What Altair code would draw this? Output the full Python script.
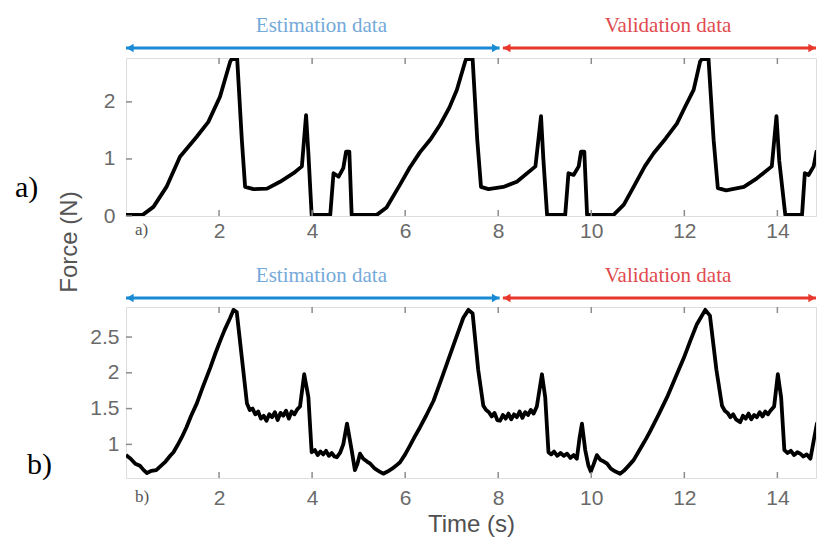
import altair as alt
import pandas as pd

# ---------------- data ----------------
x_ticks = [2, 4, 6, 8, 10, 12, 14]
ya_ticks = [0, 1, 2]
yb_ticks = [1, 1.5, 2, 2.5]

# panel a) measured force (N)
t_a = [0.0, 0.36, 0.59, 0.87, 1.16, 1.52, 1.77, 2.02, 2.24, 2.27,
       2.39, 2.49, 2.56, 2.74, 3.03, 3.31, 3.6, 3.78, 3.87, 3.92,
       3.99, 4.39, 4.46, 4.57, 4.67, 4.73, 4.8, 4.85, 5.39, 5.6,
       5.89, 6.1, 6.32, 6.55, 6.75, 6.95, 7.11, 7.29, 7.31, 7.45,
       7.55, 7.63, 7.79, 8.11, 8.4, 8.8, 8.92, 8.97, 9.05, 9.44,
       9.51, 9.62, 9.73, 9.78, 9.85, 9.91, 10.48, 10.7, 10.91, 11.15,
       11.34, 11.6, 11.84, 12.02, 12.2, 12.34, 12.38, 12.52, 12.63, 12.72,
       12.9, 13.28, 13.56, 13.88, 13.98, 14.04, 14.17, 14.53, 14.59, 14.67,
       14.78, 14.84, 14.94, 14.98, 15.0]
f_a = [0.02, 0.02, 0.16, 0.51, 1.04, 1.39, 1.65, 2.09, 2.71, 2.75,
       2.75, 1.33, 0.51, 0.47, 0.48, 0.6, 0.75, 0.87, 1.77, 1.1,
       0.02, 0.02, 0.75, 0.69, 0.84, 1.13, 1.13, 0.02, 0.02, 0.15,
       0.55, 0.85, 1.12, 1.35, 1.6, 1.9, 2.21, 2.71, 2.75, 2.75,
       1.33, 0.51, 0.47, 0.51, 0.6, 0.87, 1.75, 1.0, 0.02, 0.02,
       0.75, 0.72, 0.87, 1.13, 1.13, 0.02, 0.02, 0.2, 0.51, 0.87,
       1.1, 1.36, 1.62, 1.92, 2.21, 2.71, 2.75, 2.75, 1.33, 0.49,
       0.45, 0.51, 0.66, 0.87, 1.75, 0.97, 0.02, 0.02, 0.75, 0.72,
       0.87, 1.13, 1.13, 0.05, 0.05]

# panel b) second force signal
t_b = [0.0, 0.1, 0.2, 0.3, 0.38, 0.45, 0.55, 0.65, 0.75, 0.85,
       0.95, 1.02, 1.1, 1.2, 1.3, 1.4, 1.52, 1.65, 1.81, 1.92,
       2.02, 2.12, 2.24, 2.31, 2.38, 2.49, 2.6, 2.66, 2.72, 2.78,
       2.84, 2.9, 2.96, 3.02, 3.08, 3.14, 3.2, 3.26, 3.32, 3.38,
       3.44, 3.5, 3.56, 3.62, 3.68, 3.74, 3.83, 3.92, 3.99, 4.06,
       4.12, 4.18, 4.24, 4.3, 4.36, 4.42, 4.48, 4.53, 4.6, 4.67,
       4.75, 4.85, 4.92, 4.97, 5.03, 5.1, 5.18, 5.25, 5.35, 5.45,
       5.53, 5.62, 5.72, 5.8, 5.89, 6.0, 6.1, 6.2, 6.32, 6.45,
       6.61, 6.8, 6.97, 7.1, 7.25, 7.36, 7.45, 7.57, 7.68, 7.74,
       7.8, 7.86, 7.92, 7.98, 8.04, 8.1, 8.16, 8.22, 8.28, 8.34,
       8.4, 8.46, 8.52, 8.58, 8.64, 8.7, 8.76, 8.83, 8.94, 9.01,
       9.08, 9.14, 9.2, 9.27, 9.34, 9.41, 9.48, 9.55, 9.62, 9.69,
       9.75, 9.8, 9.87, 9.94, 9.99, 10.05, 10.12, 10.2, 10.27, 10.34,
       10.42, 10.52, 10.62, 10.7, 10.8, 10.91, 11.0, 11.1, 11.18, 11.27,
       11.45, 11.63, 11.8, 11.99, 12.13, 12.27, 12.45, 12.55, 12.69, 12.81,
       12.87, 12.93, 12.99, 13.05, 13.11, 13.2, 13.26, 13.32, 13.38, 13.44,
       13.5, 13.56, 13.62, 13.68, 13.74, 13.8, 13.85, 13.93, 14.01, 14.08,
       14.15, 14.22, 14.29, 14.36, 14.43, 14.49, 14.56, 14.63, 14.71, 14.78,
       14.85, 14.96, 15.0]
f_b = [0.85, 0.8, 0.73, 0.7, 0.64, 0.6, 0.63, 0.64, 0.7, 0.76,
       0.84, 0.89, 0.98, 1.1, 1.24, 1.4, 1.57, 1.8, 2.07, 2.27,
       2.44, 2.6, 2.77, 2.88, 2.85, 2.21, 1.57, 1.48, 1.5, 1.42,
       1.46, 1.36, 1.4, 1.33, 1.42, 1.38, 1.45, 1.34, 1.44, 1.4,
       1.47, 1.36, 1.46, 1.42, 1.49, 1.53, 1.98, 1.66, 0.89, 0.92,
       0.85, 0.9, 0.86, 0.91, 0.84, 0.88, 0.83, 0.82, 0.88, 1.0,
       1.29, 0.92, 0.64, 0.72, 0.87, 0.8, 0.76, 0.73, 0.66, 0.62,
       0.59, 0.62, 0.66, 0.7, 0.75, 0.86, 0.98, 1.1, 1.24, 1.4,
       1.61, 1.95, 2.26, 2.5, 2.77, 2.88, 2.83, 2.04, 1.54, 1.48,
       1.45, 1.39, 1.44, 1.34, 1.33, 1.41, 1.36, 1.43, 1.35, 1.42,
       1.38, 1.46, 1.37, 1.45, 1.41, 1.48, 1.43, 1.53, 1.98, 1.66,
       0.89, 0.86, 0.9, 0.84, 0.88, 0.84, 0.87, 0.81, 0.85, 0.8,
       1.1, 1.29, 0.92, 0.7, 0.62, 0.72, 0.85, 0.78, 0.76, 0.73,
       0.66, 0.62, 0.59, 0.63, 0.7, 0.78, 0.88, 0.99, 1.08, 1.19,
       1.42, 1.66, 1.92, 2.21, 2.45, 2.68, 2.88, 2.8, 2.04, 1.54,
       1.47, 1.44, 1.38, 1.42, 1.35, 1.31, 1.4, 1.36, 1.43, 1.35,
       1.41, 1.38, 1.45, 1.39, 1.46, 1.42, 1.47, 1.53, 1.98, 1.66,
       0.92, 0.88, 0.91, 0.85, 0.89, 0.87, 0.83, 0.86, 0.8, 1.05,
       1.29, 0.92, 0.7]

# annotation segments (arrows above each panel)
seg_labels = ["Estimation data", "Validation data"]
seg_start = [0.0, 8.1]
seg_end = [8.03, 14.83]
seg_text_x = [4.2, 11.65]
seg_line_colors = ["#1a8ad4", "#e8372c"]
seg_text_colors = ["#74a9d9", "#df4a4e"]

# ---------------- styling ----------------
SANS = "Liberation Sans"
SERIF = "Liberation Serif"
X_MAX = 14.83
W = 690
FRAME = "#8c8c8c"

seg_df = pd.DataFrame({
    "label": seg_labels, "start": seg_start, "end": seg_end,
    "tx": seg_text_x, "lc": seg_line_colors, "tc": seg_text_colors,
})
xt_df = pd.DataFrame({"t": x_ticks})


def panel(t, f, y_domain, y_ticks, height, xlab_pad, ylab_pad,
          arrow_y, text_y, side_label, side_x, side_y, small_label,
          small_y, x_title=None, title_pad=0, extra_layers=()):
    xs = alt.Scale(domain=[0, X_MAX], nice=False, zero=False)
    ys = alt.Scale(domain=y_domain, nice=False, zero=False)
    df = pd.DataFrame({"t": t, "f": f})
    yt_df = pd.DataFrame({"f": y_ticks})

    x_axis = alt.Axis(values=x_ticks, labelFont=SANS, labelFontSize=21,
                      labelColor="#6a6a6a", labelPadding=xlab_pad,
                      ticks=False, domain=False, grid=False,
                      title=x_title, titleFont=SANS, titleFontSize=24,
                      titleFontWeight="normal", titleColor="#505050",
                      titlePadding=title_pad)
    y_axis = alt.Axis(values=y_ticks, format="~g", labelFont=SANS,
                      labelFontSize=21, labelColor="#6a6a6a",
                      labelPadding=ylab_pad, ticks=False, domain=False,
                      grid=False, title=None)

    def X(field):
        return alt.X(field, scale=xs, axis=x_axis)

    def Y(field):
        return alt.Y(field, scale=ys, axis=y_axis)

    line = alt.Chart(df).mark_line(
        color="black", strokeWidth=3.8, clip=True, strokeJoin="round"
    ).encode(x=X("t:Q"), y=Y("f:Q"))

    bot_ticks = alt.Chart(xt_df).mark_rule(color=FRAME, strokeWidth=1.5).encode(
        x=X("t:Q"), y=alt.value(height), y2=alt.value(height - 6),
    )
    top_ticks = alt.Chart(xt_df).mark_rule(color=FRAME, strokeWidth=1.5).encode(
        x=X("t:Q"), y=alt.value(0), y2=alt.value(6),
    )
    left_ticks = alt.Chart(yt_df).mark_rule(color=FRAME, strokeWidth=1.5).encode(
        y=Y("f:Q"), x=alt.value(0), x2=alt.value(6),
    )

    arrows = alt.Chart(seg_df).mark_rule(strokeWidth=3).encode(
        x=X("start:Q"), x2="end:Q", y=alt.value(arrow_y),
        color=alt.Color("lc:N", scale=None),
    )
    head_l = alt.Chart(seg_df).mark_point(
        shape="triangle-left", filled=True, size=70, opacity=1
    ).encode(
        x=X("start:Q"), y=alt.value(arrow_y), xOffset=alt.value(4),
        color=alt.Color("lc:N", scale=None),
    )
    head_r = alt.Chart(seg_df).mark_point(
        shape="triangle-right", filled=True, size=70, opacity=1
    ).encode(
        x=X("end:Q"), y=alt.value(arrow_y), xOffset=alt.value(-4),
        color=alt.Color("lc:N", scale=None),
    )
    seg_text = alt.Chart(seg_df).mark_text(
        font=SERIF, fontSize=21, baseline="middle", align="center"
    ).encode(
        x=X("tx:Q"), y=alt.value(text_y), text="label:N",
        color=alt.Color("tc:N", scale=None),
    )

    side = alt.Chart(pd.DataFrame({"s": [side_label]})).mark_text(
        font=SERIF, fontSize=30, align="left", baseline="middle", color="black"
    ).encode(x=alt.value(side_x), y=alt.value(side_y), text="s:N")
    small = alt.Chart(pd.DataFrame({"s": [small_label]})).mark_text(
        font=SERIF, fontSize=17, align="left", baseline="middle", color="#555555"
    ).encode(x=alt.value(9), y=alt.value(small_y), text="s:N")

    layers = [line, bot_ticks, top_ticks, left_ticks, arrows, head_l,
              head_r, seg_text, side, small] + list(extra_layers)
    return alt.layer(*layers).properties(width=W, height=height)


force_label = alt.Chart(pd.DataFrame({"s": ["Force (N)"]})).mark_text(
    font=SANS, fontSize=24, angle=270, align="center", baseline="middle",
    color="#555555"
).encode(x=alt.value(-56), y=alt.value(184), text="s:N")

pa = panel(t_a, f_a, [0, 2.77], ya_ticks, 158, 4, 11,
           -10, -32, "a)", -111, 130, "a)", 172,
           extra_layers=[force_label])
pb = panel(t_b, f_b, [0.53, 2.92], yb_ticks, 171, 9, 7,
           -9, -31, "b)", -99, 158, "b)", 190,
           x_title="Time (s)", title_pad=4)

chart = alt.vconcat(pa, pb, spacing=91, bounds="flush").properties(
    padding={"left": 6, "top": 6, "right": 0, "bottom": 0}
).configure_view(stroke=FRAME, strokeWidth=2).configure(background="white")

chart.save("out.html", embed_options={"renderer": "svg", "actions": False})
